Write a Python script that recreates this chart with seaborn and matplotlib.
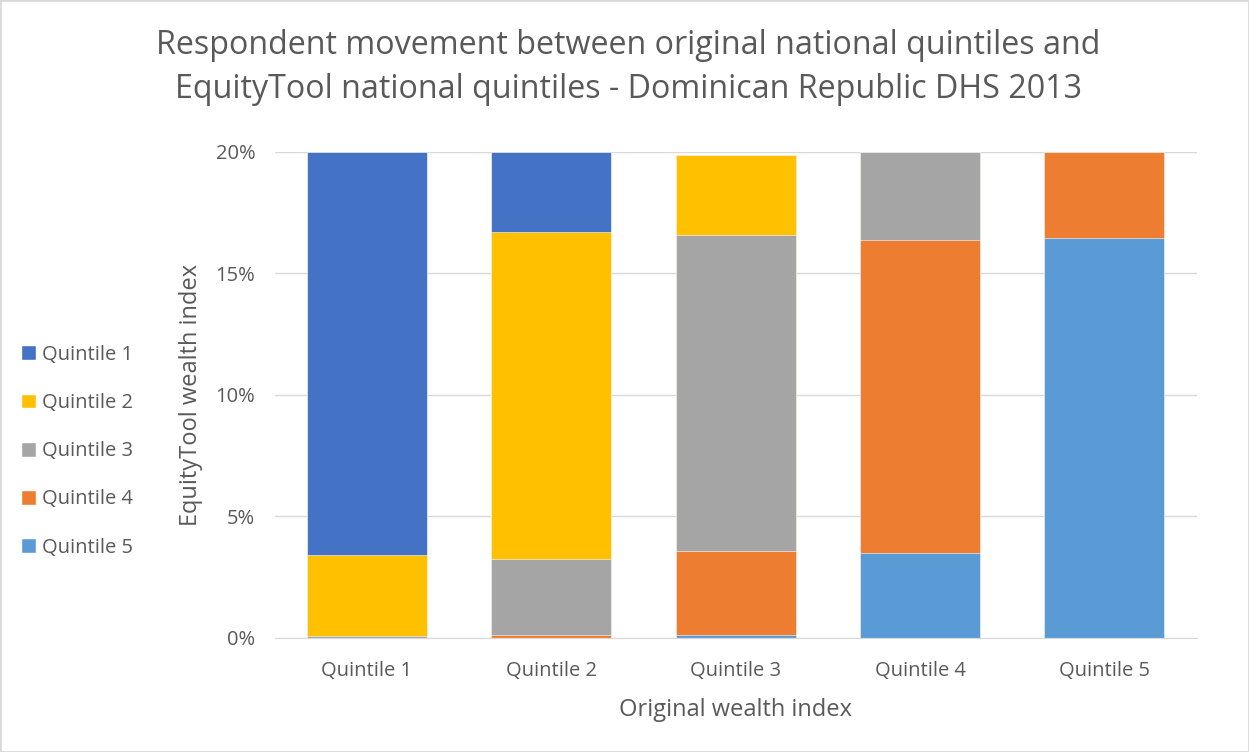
import pandas as pd
import numpy as np
import matplotlib.pyplot as plt
import seaborn as sns
from matplotlib.patches import Patch
from matplotlib.ticker import PercentFormatter

# data (% of respondents)
original = ['Quintile 1', 'Quintile 2', 'Quintile 3', 'Quintile 4', 'Quintile 5']
q1 = [16.6, 3.3, 0.0, 0.0, 0.0]
q2 = [3.35, 13.45, 3.3, 0.0, 0.0]
q3 = [0.05, 3.15, 13.0, 3.62, 0.0]
q4 = [0.0, 0.1, 3.48, 12.88, 3.54]
q5 = [0.0, 0.0, 0.1, 3.5, 16.46]

series = ['Quintile 1', 'Quintile 2', 'Quintile 3', 'Quintile 4', 'Quintile 5']
colors = ['#4472c4', '#ffc000', '#a5a5a5', '#ed7d31', '#5b9bd5']

sns.set_style('white')
plt.rcParams['font.family'] = ['Open Sans', 'DejaVu Sans']

df = pd.DataFrame({'orig': original, 'Quintile 1': q1, 'Quintile 2': q2,
                   'Quintile 3': q3, 'Quintile 4': q4, 'Quintile 5': q5})

fig = plt.figure(figsize=(12.49, 7.52), dpi=100)
ax = fig.add_axes([0.22, 0.152, 0.738, 0.646])

# stacking: Q5 at bottom, Q1 on top -> draw cumulative sums top-down
stack_order = series[::-1]
cum = df[stack_order].cumsum(axis=1)
for s, c in zip(series, colors):
    sns.barplot(x=df['orig'], y=cum[s], color=c, width=0.65, ax=ax,
                edgecolor='white', linewidth=0.4, saturation=1)

ax.set_ylim(0, 20)
ax.set_yticks([0, 5, 10, 15, 20])
ax.yaxis.set_major_formatter(PercentFormatter(decimals=0))
ax.grid(axis='y', color='#d9d9d9', linewidth=1)
ax.set_axisbelow(True)
for sp in ['top', 'right', 'left']:
    ax.spines[sp].set_visible(False)
ax.spines['bottom'].set_color('#d9d9d9')
ax.tick_params(axis='x', length=0, labelsize=14.5, colors='#595959', pad=17)
ax.tick_params(axis='y', length=0, labelsize=14.5, colors='#595959', pad=14)
ax.set_xlabel('Original wealth index', fontsize=17, color='#595959', labelpad=12)
ax.set_ylabel('EquityTool wealth index', fontsize=17, color='#595959', labelpad=9)

fig.text(0.503, 0.962, 'Respondent movement between original national quintiles and\n'
         'EquityTool national quintiles - Dominican Republic DHS 2013',
         fontsize=23.2, color='#595959', ha='center', va='top', linespacing=1.45)

handles = [Patch(facecolor=c, label=s) for s, c in zip(series, colors)]
leg = fig.legend(handles=handles, loc='center left', bbox_to_anchor=(0.010, 0.40),
                 frameon=False, fontsize=14.5, handlelength=0.75, handleheight=0.75,
                 handletextpad=0.3, labelspacing=1.4, labelcolor='#595959',
                 borderaxespad=0)

fig.patches.append(plt.Rectangle((0, 0), 1, 1, transform=fig.transFigure,
                                 fill=False, edgecolor='#d9d9d9', linewidth=2))

plt.savefig('out.png', dpi=100)
